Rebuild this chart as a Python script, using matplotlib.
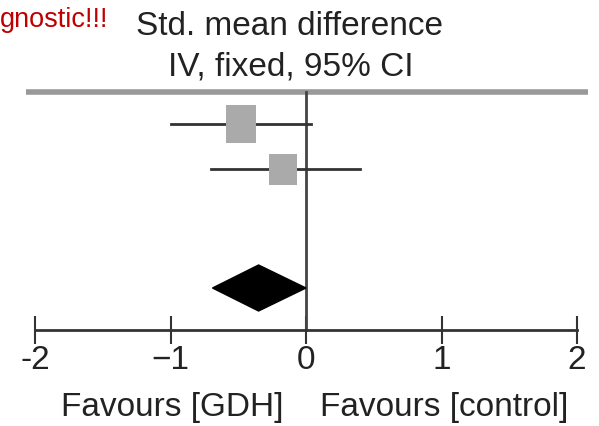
import matplotlib
matplotlib.use("Agg")
import matplotlib.pyplot as plt
from matplotlib.patches import Rectangle, Polygon

plt.rcParams['font.family'] = ['Liberation Sans', 'DejaVu Sans']

# Data
study_smd = [-0.48, -0.17]
study_lo = [-1.00, -0.70]
study_hi = [0.04, 0.40]
study_w = [0.22, 0.20]      # square width in SMD units (weight proxy)
pooled_smd = -0.35
pooled_lo = -0.69
pooled_hi = 0.00
tick_vals = [-2, -1, 0, 1, 2]
tick_labels = ['-2', '\u22121', '0', '1', '2']

W, H = 599, 426
fig = plt.figure(figsize=(W / 100, H / 100), dpi=100)

x0, x1 = 35, 577
ytop, ybot = 92, 330
ax = fig.add_axes([x0 / W, (H - ybot) / H, (x1 - x0) / W, (ybot - ytop) / H])
ax.set_xlim(-2, 2)
ax.set_ylim(ybot - ytop, 0)   # pixel offsets from top line

for s in ['top', 'left', 'right']:
    ax.spines[s].set_visible(False)
ax.spines['bottom'].set_linewidth(2)
ax.spines['bottom'].set_color('#333333')
ax.set_yticks([])
ax.set_xticks(tick_vals)
ax.set_xticklabels(tick_labels)
ax.tick_params(axis='x', direction='inout', length=20, width=1.5, color='#333333',
               labelsize=24, pad=1, labelcolor='#222222')

# top line
ax.plot([-2.07, 2.08], [0, 0], color='#999999', lw=4, clip_on=False, solid_capstyle='butt')
# zero line
ax.plot([0, 0], [0, ybot - ytop], color='#444444', lw=2, clip_on=False)

row_y = [32, 77]
row_h = [38, 31]
for y, m, lo, hi, w, h in zip(row_y, study_smd, study_lo, study_hi, study_w, row_h):
    ax.plot([lo, hi], [y, y], color='#333333', lw=2, zorder=3)
    ax.add_patch(Rectangle((m - w / 2, y - h / 2), w, h, facecolor='#aaaaaa',
                           edgecolor='none', zorder=4))

dy = 196
ax.add_patch(Polygon([[pooled_lo, dy], [pooled_smd, dy - 23], [pooled_hi, dy],
                      [pooled_smd, dy + 23]], closed=True, facecolor='black',
                     edgecolor='black', zorder=5))

fig.text(290 / W, 1 - 35 / H, 'Std. mean difference', ha='center', va='baseline',
         fontsize=24, color='#222222')
fig.text(291 / W, 1 - 75 / H, 'IV, fixed, 95% CI', ha='center', va='baseline',
         fontsize=24, color='#222222')
fig.text(0 / W, 1 - 27 / H, 'gnostic!!!', ha='left', va='baseline',
         fontsize=19.5, color='#c00000')
fig.text(172 / W, 1 - 416 / H, 'Favours [GDH]', ha='center', va='baseline',
         fontsize=24, color='#222222')
fig.text(444 / W, 1 - 416 / H, 'Favours [control]', ha='center', va='baseline',
         fontsize=24, color='#222222')

fig.savefig('out.png', dpi=100)
